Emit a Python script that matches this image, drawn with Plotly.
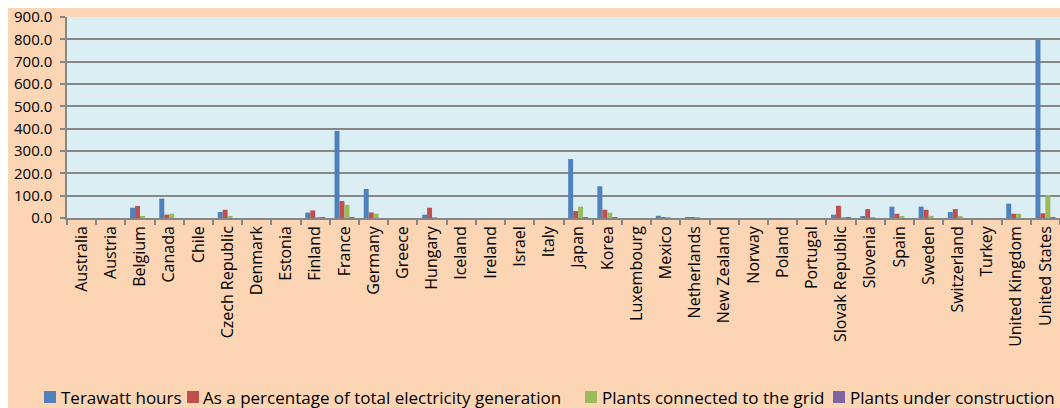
import plotly.graph_objects as go

countries = ["Australia", "Austria", "Belgium", "Canada", "Chile", "Czech Republic", "Denmark",
             "Estonia", "Finland", "France", "Germany", "Greece", "Hungary", "Iceland", "Ireland",
             "Israel", "Italy", "Japan", "Korea", "Luxembourg", "Mexico", "Netherlands",
             "New Zealand", "Norway", "Poland", "Portugal", "Slovak Republic", "Slovenia", "Spain",
             "Sweden", "Switzerland", "Turkey", "United Kingdom", "United States"]

terawatt_hours = [0, 0, 46, 87, 0, 27, 0, 0, 24, 390, 130, 0, 15, 0, 0, 0, 0, 264, 142, 0, 10, 4,
                  0, 0, 0, 0, 15, 5, 51, 51, 27, 0, 64, 797]
pct_generation = [0, 0, 54, 15, 0, 37, 0, 0, 34, 76, 25, 0, 46, 0, 0, 0, 0, 31, 37, 0, 4, 3,
                  0, 0, 0, 0, 55, 40, 19, 37, 40, 0, 19, 21]
plants_grid = [0, 0, 7, 19, 0, 6, 0, 0, 4, 59, 19, 0, 4, 0, 0, 0, 0, 51, 24, 0, 2, 1,
               0, 0, 0, 0, 4, 1, 8, 10, 5, 0, 19, 103]
plants_construction = [0, 0, 0, 0, 0, 0, 0, 0, 1, 1, 0, 0, 0, 0, 0, 0, 0, 2, 4, 0, 0, 0,
                       0, 0, 0, 0, 2, 0, 0, 0, 0, 0, 0, 1]

y_tick_values = [0, 100, 200, 300, 400, 500, 600, 700, 800, 900]
y_tick_labels = ["0.0", "100.0", "200.0", "300.0", "400.0", "500.0", "600.0", "700.0", "800.0", "900.0"]

series_names = ["Terawatt hours", "As a percentage of total electricity generation",
                "Plants connected to the grid", "Plants under construction"]
series_values = [terawatt_hours, pct_generation, plants_grid, plants_construction]
series_colors = ["#4F81BD", "#C0504D", "#9BBB59", "#8064A2"]

font_family = "Open Sans, Noto Sans, sans-serif"

fig = go.Figure()
for name, vals, color in zip(series_names, series_values, series_colors):
    fig.add_trace(go.Bar(
        name=name, x=countries, y=vals,
        marker=dict(color=color, line=dict(width=0)),
        showlegend=False,
    ))

W, H = 1060, 408
ml, mr, mt, mb = 67, 0, 17, 190
pw, ph = W - ml - mr, H - mt - mb


def px_x(page_px):
    return (page_px - ml) / pw


def px_y(page_py):
    return (H - mb - page_py) / ph


shapes = [
    # white strips at top and left (the chart box starts 8px in)
    dict(type="rect", xref="paper", yref="paper", layer="below",
         x0=px_x(0), x1=px_x(W), y0=px_y(8), y1=px_y(0),
         fillcolor="white", line=dict(width=0)),
    dict(type="rect", xref="paper", yref="paper", layer="below",
         x0=px_x(0), x1=px_x(8), y0=px_y(H), y1=px_y(0),
         fillcolor="white", line=dict(width=0)),
]
annotations = []

# Hand-placed compact legend (Excel style): square swatch immediately followed by text
legend_square_x = [44, 187, 585, 833]
legend_text_x = [59, 201, 600, 848]
legend_cy = 397
for name, color, sx, tx in zip(series_names, series_colors, legend_square_x, legend_text_x):
    shapes.append(dict(type="rect", xref="paper", yref="paper",
                       x0=px_x(sx), x1=px_x(sx + 12), y0=px_y(legend_cy + 6), y1=px_y(legend_cy - 6),
                       fillcolor=color, line=dict(width=0)))
    annotations.append(dict(text=name, xref="paper", yref="paper", x=px_x(tx), y=px_y(legend_cy),
                            xanchor="left", yanchor="middle", showarrow=False,
                            font=dict(family=font_family, size=17, color="#000000")))

fig.update_layout(
    width=W, height=H,
    margin=dict(l=ml, r=mr, t=mt, b=mb, pad=0, autoexpand=False),
    paper_bgcolor="#FCD5B5",
    plot_bgcolor="#DAEEF3",
    barmode="group",
    bargap=0.32,
    bargroupgap=0,
    font=dict(family=font_family, size=14, color="#000000"),
    shapes=shapes,
    annotations=annotations,
    showlegend=False,
    xaxis=dict(
        type="category", tickangle=-90, showgrid=False,
        ticks="outside", tickson="boundaries", ticklen=5, tickcolor="#868686", tickwidth=1.5,
        showline=True, linecolor="#868686", linewidth=1.5,
        tickfont=dict(family=font_family, size=16),
        range=[-0.5, len(countries) - 0.5], fixedrange=True, automargin=False,
    ),
    yaxis=dict(
        range=[0, 900], tickmode="array", tickvals=y_tick_values, ticktext=y_tick_labels,
        showgrid=True, gridcolor="#878787", gridwidth=1.6,
        zeroline=False,
        showline=True, linecolor="#868686", linewidth=1.5,
        ticks="outside", ticklen=5, tickcolor="#868686", tickwidth=1.5,
        ticklabelstandoff=5,
        tickfont=dict(family=font_family, size=15),
        fixedrange=True, automargin=False,
    ),
)

fig.write_html("out.html", config={"displayModeBar": False},
               post_script="document.body.style.margin='0';")
